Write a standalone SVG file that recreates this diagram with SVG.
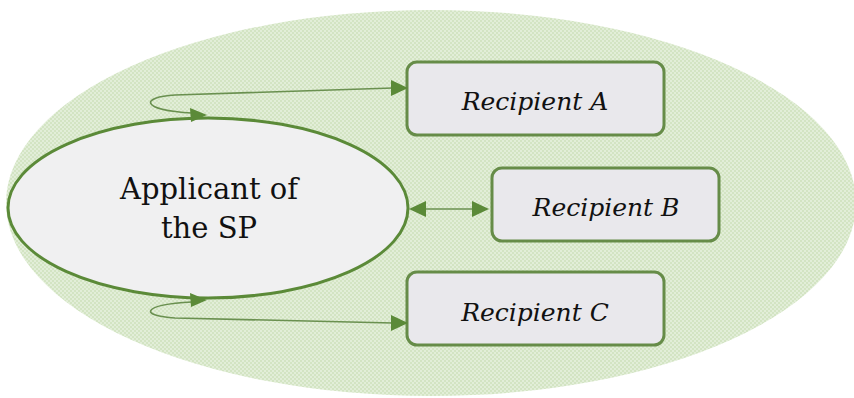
<svg xmlns="http://www.w3.org/2000/svg" width="854" height="398" viewBox="0 0 854 398">
<style>
.box{fill:#e9e8ec;stroke:#668c48;stroke-width:3}
.lbl{font-family:"DejaVu Serif","Liberation Serif",serif;font-style:italic;font-size:25px;fill:#111;text-anchor:middle}
.main{font-family:"DejaVu Serif","Liberation Serif",serif;font-size:29px;fill:#111;text-anchor:middle}
.thin{fill:none;stroke:#6a9050;stroke-width:1.6}
.head{fill:#5b8a38}
</style>
<defs>
<pattern id="dots" width="4" height="4" patternUnits="userSpaceOnUse">
<rect width="4" height="4" fill="#e2eed8"/>
<rect width="2" height="2" fill="#d3e4c3"/>
<rect x="2" y="2" width="2" height="2" fill="#d3e4c3"/>
</pattern>
</defs>
<rect width="854" height="398" fill="#ffffff"/>
<ellipse id="background" cx="431" cy="203" rx="425" ry="193" fill="url(#dots)"/>
<g id="applicant">
<ellipse cx="208" cy="208" rx="200" ry="90" fill="#f0f0f1" stroke="#5b8a38" stroke-width="3"/>
<text class="main" x="209" y="199">Applicant of</text>
<text class="main" x="209" y="238">the SP</text>
</g>
<g id="recipientA">
<rect class="box" x="407" y="62" width="257" height="73" rx="10"/>
<text class="lbl" x="535" y="110">Recipient A</text>
</g>
<g id="recipientB">
<rect class="box" x="492" y="168" width="227" height="73" rx="10"/>
<text class="lbl" x="606" y="216">Recipient B</text>
</g>
<g id="recipientC">
<rect class="box" x="407" y="272" width="257" height="73" rx="10"/>
<text class="lbl" x="535" y="321">Recipient C</text>
</g>
<g id="connectors">
<path class="thin" d="M 192,113 C 140,110 140,97 175,95 L 393,88"/>
<polygon class="head" points="207,115 190,108 191,122"/>
<polygon class="head" points="408,88 391,80 391,96"/>
<path class="thin" d="M 192,302 C 140,305 140,316 175,318 L 393,323"/>
<polygon class="head" points="207,300 190,293 191,307"/>
<polygon class="head" points="408,323 391,315 391,331"/>
<line class="thin" x1="420" y1="209" x2="478" y2="209"/>
<polygon class="head" points="409,209 426,201 426,217"/>
<polygon class="head" points="489,209 472,201 472,217"/>
</g>
</svg>
